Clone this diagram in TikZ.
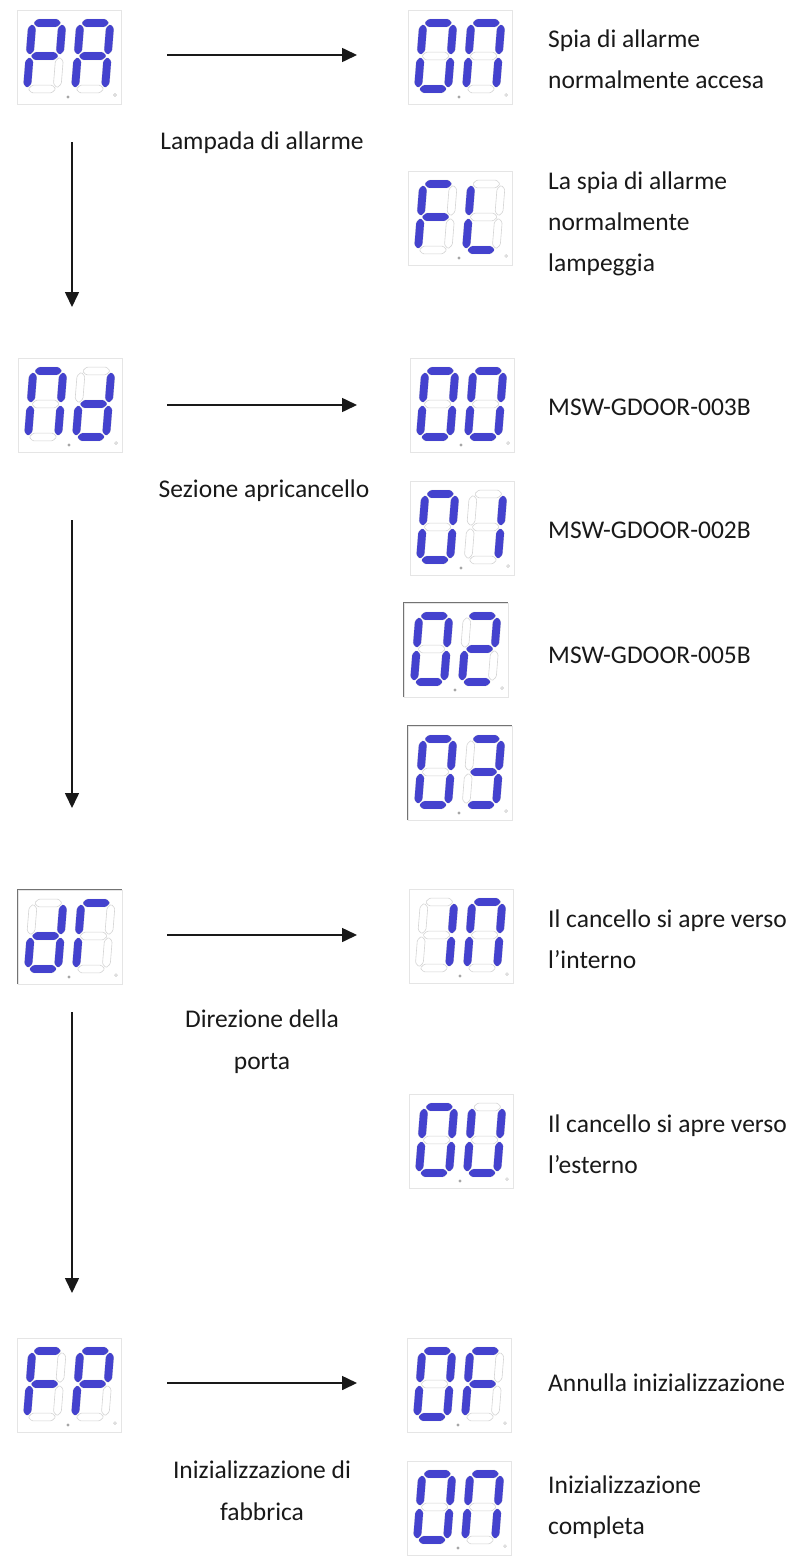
\documentclass[tikz,border=0pt]{standalone}
\usepackage{fontspec}
\setmainfont{Carlito}
\usetikzlibrary{arrows.meta}
\definecolor{segblue}{RGB}{68,66,206}
\definecolor{txt}{RGB}{25,25,25}
\tikzset{
  segon/.style={fill=segblue,rounded corners=1.2bp},
  segoff/.style={draw=black!17,line width=0.6bp,rounded corners=1.2bp},
  dispbox/.style={draw=black!10,line width=0.9bp,minimum width=104bp,minimum height=94bp,inner sep=0pt},
  darkedge/.style={draw=black!55,line width=1bp},
  dotc/.style={fill=black!35},
  dotc2/.style={draw=black!25,line width=0.5bp},
  arr/.style={line width=1.6bp,draw=black!90,-{Triangle[length=15bp,width=14bp]}},
  lbl/.style={font=\fontsize{25.5bp}{41bp}\selectfont,text=txt,inner sep=0pt,align=left},
  clbl/.style={font=\fontsize{25.5bp}{42bp}\selectfont,text=txt,inner sep=0pt,align=center}
}
\def\sh{3.9}
\newcommand\hsegp[4]{\path[#1] (#2,#4) -- (#2+\sh,#4+\sh) -- (#3-\sh,#4+\sh) -- (#3,#4) -- (#3-\sh,#4-\sh) -- (#2+\sh,#4-\sh) -- cycle;}
\newcommand\vsegp[4]{\path[#1] (#4,#2) -- (#4+\sh,#2+\sh) -- (#4+\sh,#3-\sh) -- (#4,#3) -- (#4-\sh,#3-\sh) -- (#4-\sh,#2+\sh) -- cycle;}
\newcommand\lcdA[1]{\hsegp{#1}{1.2}{28.8}{66}}
\newcommand\lcdB[1]{\vsegp{#1}{34.2}{64.8}{30}}
\newcommand\lcdC[1]{\vsegp{#1}{1.2}{31.8}{30}}
\newcommand\lcdD[1]{\hsegp{#1}{1.2}{28.8}{0}}
\newcommand\lcdE[1]{\vsegp{#1}{1.2}{31.8}{0}}
\newcommand\lcdF[1]{\vsegp{#1}{34.2}{64.8}{0}}
\newcommand\lcdG[1]{\hsegp{#1}{1.2}{28.8}{33}}
\newcommand\lcddigit[3]{%
  \begin{scope}[shift={(#1,#2)},x=1bp,y=1bp,xslant=0.08]
    \foreach \s in {A,B,C,D,E,F,G}{\csname lcd\s\endcsname{segoff}}
    \foreach \s in {#3}{\csname lcd\s\endcsname{segon}}
  \end{scope}}
\newcommand\lcdunit[5]{%
  \node[dispbox] (#1) at (#2,#3) {};
  \lcddigit{#2-42}{#3+32}{#4}
  \lcddigit{#2+6}{#3+32}{#5}
  \fill[dotc] (#2-1,#3+40) circle (1.6bp);
  \draw[dotc2] (#2+46,#3+38) circle (1.4bp);
}
\begin{document}
\begin{tikzpicture}[x=1bp,y=-1bp]
\useasboundingbox[fill=white] (0,0) rectangle (806,1560);

% ---------- PA ----------
\lcdunit{pa}{69}{57}{A,B,E,F,G}{A,B,C,E,F,G}
\lcdunit{on1}{460}{57}{A,B,C,D,E,F}{A,B,C,E,F}
\lcdunit{fl}{460}{218}{A,E,F,G}{D,E,F}
\coordinate (h1s) at (167,55);
\coordinate (h1e) at (357,55);
\draw[arr] (h1s) -- (h1e);
\node[clbl] (lpa) at (262,143) {Lampada di allarme};
\node[lbl,anchor=west] (ton1) at (548,59) {Spia di allarme\\normalmente accesa};
\node[lbl,anchor=west] (tfl) at (548,224) {La spia di allarme\\normalmente\\lampeggia};
\coordinate (v1s) at (72,142);
\coordinate (v1e) at (72,307);
\draw[arr] (v1s) -- (v1e);

% ---------- Nd ----------
\lcdunit{nd}{70}{405}{A,B,C,E,F}{B,C,D,E,G}
\lcdunit{o00}{462}{405}{A,B,C,D,E,F}{A,B,C,D,E,F}
\lcdunit{o01}{462}{528}{A,B,C,D,E,F}{B,C}
\lcdunit{o02}{456}{650}{A,B,C,D,E,F}{A,B,G,E,D}
\lcdunit{o03}{460}{773}{A,B,C,D,E,F}{A,B,G,C,D}
\draw[darkedge] (o02.south west) -- (o02.north west) -- (o02.north east);
\draw[darkedge] (o03.south west) -- (o03.north west) -- (o03.north east);
\coordinate (h2s) at (167,405);
\coordinate (h2e) at (357,405);
\draw[arr] (h2s) -- (h2e);
\node[clbl] (lnd) at (264,491) {Sezione apricancello};
\node[lbl,anchor=west] (t00) at (548,407) {MSW-GDOOR-003B};
\node[lbl,anchor=west] (t01) at (548,530) {MSW-GDOOR-002B};
\node[lbl,anchor=west] (t02) at (548,655) {MSW-GDOOR-005B};
\coordinate (v2s) at (72,520);
\coordinate (v2e) at (72,808);
\draw[arr] (v2s) -- (v2e);

% ---------- dr ----------
\lcdunit{dr}{70}{937}{B,C,D,E,G}{A,E,F}
\draw[darkedge] (dr.south west) -- (dr.north west) -- (dr.north east);
\lcdunit{oin}{461}{936}{B,C}{A,B,C,E,F}
\lcdunit{oou}{461}{1141}{A,B,C,D,E,F}{B,C,D,E,F}
\coordinate (h3s) at (167,935);
\coordinate (h3e) at (357,935);
\draw[arr] (h3s) -- (h3e);
\node[clbl] (ldr) at (262,1042) {Direzione della\\porta};
\node[lbl,anchor=west] (tin) at (548,939) {Il cancello si apre verso\\l'interno};
\node[lbl,anchor=west] (tou) at (548,1144) {Il cancello si apre verso\\l'esterno};
\coordinate (v3s) at (72,1012);
\coordinate (v3e) at (72,1293);
\draw[arr] (v3s) -- (v3e);

% ---------- FP ----------
\lcdunit{fp}{69}{1385}{A,E,F,G}{A,B,E,F,G}
\lcdunit{oof}{459}{1385}{A,B,C,D,E,F}{A,E,F,G}
\lcdunit{oon}{459}{1508}{A,B,C,D,E,F}{A,B,C,E,F}
\coordinate (h4s) at (167,1383);
\coordinate (h4e) at (357,1383);
\draw[arr] (h4s) -- (h4e);
\node[clbl] (lfp) at (262,1491) {Inizializzazione di\\fabbrica};
\node[lbl,anchor=west] (tof) at (548,1383) {Annulla inizializzazione};
\node[lbl,anchor=west] (toon) at (548,1507) {Inizializzazione\\completa};
\end{tikzpicture}
\end{document}
